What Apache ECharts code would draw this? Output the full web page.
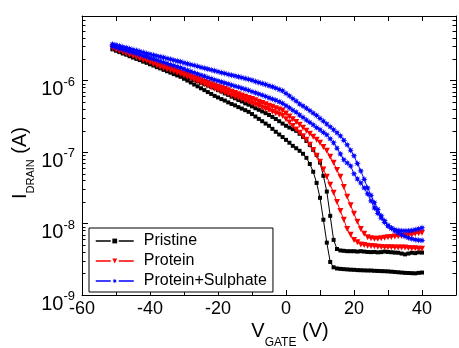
<!DOCTYPE html>
<html><head><meta charset="utf-8">
<script src="https://cdn.jsdelivr.net/npm/echarts@6/dist/echarts.min.js"></script>
<style>html,body{margin:0;padding:0;background:#fff}#c{width:459px;height:348px}</style>
</head><body><div id="c"></div>
<script>
// Gate voltage (V)
const vGate = [-51,-50,-49,-48,-47,-46,-45,-44,-43,-42,-41,-40,-39,-38,-37,-36,-35,-34,-33,-32,-31,-30,-29,-28,-27,-26,-25,-24,-23,-22,-21,-20,-19,-18,-17,-16,-15,-14,-13,-12,-11,-10,-9,-8,-7,-6,-5,-4,-3,-2,-1,0,1,2,3,4,5,6,7,8,9,10,11,12,13,14,15,16,17,18,19,20,21,22,23,24,25,26,27,28,29,30,31,32,33,34,35,36,37,38,39,40];

// Drain current (A), two sweeps per sample
const pristineA = [2.73e-6,2.61e-6,2.50e-6,2.39e-6,2.30e-6,2.19e-6,2.10e-6,2.01e-6,1.93e-6,1.84e-6,1.77e-6,1.69e-6,1.62e-6,1.54e-6,1.48e-6,1.41e-6,1.35e-6,1.29e-6,1.23e-6,1.18e-6,1.13e-6,1.06e-6,1.0e-6,9.4e-7,8.8e-7,8.3e-7,7.8e-7,7.35e-7,6.9e-7,6.5e-7,6.1e-7,5.8e-7,5.5e-7,5.25e-7,4.95e-7,4.7e-7,4.5e-7,4.25e-7,4.05e-7,3.85e-7,3.65e-7,3.4e-7,3.14e-7,2.91e-7,2.7e-7,2.5e-7,2.33e-7,2.11e-7,1.92e-7,1.76e-7,1.62e-7,1.48e-7,1.35e-7,1.22e-7,1.13e-7,1.04e-7,9.45e-8,8.3e-8,6.8e-8,5.3e-8,3.7e-8,2.29e-8,1.13e-8,5.4e-9,2.9e-9,2.44e-9,2.35e-9,2.32e-9,2.3e-9,2.28e-9,2.26e-9,2.25e-9,2.23e-9,2.22e-9,2.21e-9,2.2e-9,2.2e-9,2.18e-9,2.17e-9,2.16e-9,2.15e-9,2.14e-9,2.12e-9,2.1e-9,2.08e-9,2.06e-9,2.04e-9,2.03e-9,2.02e-9,2.01e-9,2.04e-9,2.06e-9];
const pristineB = [2.77e-6,2.67e-6,2.57e-6,2.47e-6,2.38e-6,2.29e-6,2.20e-6,2.12e-6,2.04e-6,1.96e-6,1.89e-6,1.80e-6,1.73e-6,1.65e-6,1.58e-6,1.51e-6,1.45e-6,1.39e-6,1.33e-6,1.27e-6,1.22e-6,1.17e-6,1.12e-6,1.07e-6,1.02e-6,9.75e-7,9.3e-7,8.9e-7,8.5e-7,8.15e-7,7.8e-7,7.35e-7,7.0e-7,6.6e-7,6.3e-7,5.95e-7,5.65e-7,5.35e-7,5.1e-7,4.8e-7,4.6e-7,4.35e-7,4.1e-7,3.9e-7,3.7e-7,3.5e-7,3.3e-7,3.1e-7,2.9e-7,2.7e-7,2.5e-7,2.33e-7,2.2e-7,2.09e-7,1.98e-7,1.8e-7,1.63e-7,1.43e-7,1.26e-7,1.07e-7,9.1e-8,7.1e-8,4.65e-8,2.8e-8,1.28e-8,5.9e-9,4.4e-9,4.2e-9,4.15e-9,4.1e-9,4.1e-9,4.1e-9,4.05e-9,4.1e-9,4.05e-9,4.0e-9,3.98e-9,4.0e-9,3.95e-9,3.98e-9,4.05e-9,4.0e-9,3.96e-9,3.92e-9,3.9e-9,3.8e-9,3.7e-9,3.8e-9,3.9e-9,3.85e-9,3.95e-9,3.92e-9];
const proteinA = [2.82e-6,2.70e-6,2.60e-6,2.50e-6,2.40e-6,2.30e-6,2.21e-6,2.12e-6,2.04e-6,1.96e-6,1.89e-6,1.80e-6,1.71e-6,1.63e-6,1.55e-6,1.50e-6,1.44e-6,1.39e-6,1.34e-6,1.29e-6,1.24e-6,1.18e-6,1.13e-6,1.07e-6,1.02e-6,9.75e-7,9.3e-7,8.85e-7,8.45e-7,8.0e-7,7.65e-7,7.35e-7,7.05e-7,6.75e-7,6.5e-7,6.2e-7,5.95e-7,5.7e-7,5.5e-7,5.25e-7,5.05e-7,4.8e-7,4.6e-7,4.4e-7,4.2e-7,4.0e-7,3.85e-7,3.65e-7,3.5e-7,3.35e-7,3.2e-7,2.88e-7,2.58e-7,2.31e-7,2.07e-7,1.86e-7,1.66e-7,1.48e-7,1.26e-7,1.07e-7,8.85e-8,7.3e-8,5.7e-8,4.5e-8,3.5e-8,2.7e-8,2.0e-8,1.5e-8,1.13e-8,8.4e-9,6.95e-9,5.9e-9,5.45e-9,5.1e-9,5.0e-9,4.9e-9,4.85e-9,4.8e-9,4.75e-9,4.7e-9,4.65e-9,4.65e-9,4.65e-9,4.6e-9,4.6e-9,4.6e-9,4.6e-9,4.55e-9,4.5e-9,4.5e-9,4.45e-9,4.45e-9];
const proteinB = [2.89e-6,2.79e-6,2.68e-6,2.58e-6,2.48e-6,2.39e-6,2.30e-6,2.21e-6,2.12e-6,2.04e-6,1.95e-6,1.86e-6,1.78e-6,1.71e-6,1.63e-6,1.57e-6,1.51e-6,1.46e-6,1.40e-6,1.35e-6,1.30e-6,1.25e-6,1.20e-6,1.15e-6,1.10e-6,1.06e-6,1.01e-6,9.7e-7,9.3e-7,8.9e-7,8.55e-7,8.2e-7,7.9e-7,7.6e-7,7.3e-7,7.0e-7,6.7e-7,6.45e-7,6.2e-7,5.95e-7,5.7e-7,5.5e-7,5.3e-7,5.05e-7,4.85e-7,4.65e-7,4.45e-7,4.3e-7,4.1e-7,3.95e-7,3.8e-7,3.45e-7,3.15e-7,2.88e-7,2.63e-7,2.4e-7,2.18e-7,1.98e-7,1.8e-7,1.63e-7,1.48e-7,1.35e-7,1.18e-7,1.04e-7,8.6e-8,7.1e-8,5.6e-8,4.5e-8,3.25e-8,2.36e-8,1.8e-8,1.37e-8,1.06e-8,8.4e-9,7.2e-9,6.4e-9,6.2e-9,6.1e-9,6.1e-9,6.2e-9,6.3e-9,6.4e-9,6.5e-9,6.6e-9,6.65e-9,6.7e-9,6.8e-9,6.9e-9,6.95e-9,7.2e-9,7.3e-9,7.4e-9];
const sulphateA = [3.0e-6,2.91e-6,2.81e-6,2.72e-6,2.64e-6,2.55e-6,2.46e-6,2.38e-6,2.30e-6,2.22e-6,2.15e-6,2.07e-6,2.0e-6,1.93e-6,1.86e-6,1.80e-6,1.73e-6,1.67e-6,1.62e-6,1.56e-6,1.51e-6,1.45e-6,1.39e-6,1.34e-6,1.29e-6,1.24e-6,1.19e-6,1.15e-6,1.10e-6,1.06e-6,1.02e-6,9.9e-7,9.55e-7,9.25e-7,8.95e-7,8.65e-7,8.35e-7,8.1e-7,7.8e-7,7.55e-7,7.3e-7,7.0e-7,6.75e-7,6.5e-7,6.25e-7,6.0e-7,5.75e-7,5.5e-7,5.3e-7,5.05e-7,4.8e-7,4.45e-7,4.15e-7,3.85e-7,3.6e-7,3.3e-7,3.05e-7,2.8e-7,2.6e-7,2.4e-7,2.2e-7,2.05e-7,1.88e-7,1.74e-7,1.53e-7,1.35e-7,1.13e-7,9.4e-8,7.8e-8,7.05e-8,6.4e-8,4.95e-8,4.2e-8,3.7e-8,3.15e-8,2.6e-8,2.07e-8,1.65e-8,1.39e-8,1.19e-8,1.04e-8,9.3e-9,8.6e-9,7.9e-9,7.4e-9,6.95e-9,6.6e-9,6.3e-9,6.1e-9,5.95e-9,5.85e-9,5.8e-9];
const sulphateB = [3.23e-6,3.14e-6,3.05e-6,2.96e-6,2.88e-6,2.79e-6,2.71e-6,2.64e-6,2.56e-6,2.48e-6,2.40e-6,2.34e-6,2.27e-6,2.21e-6,2.15e-6,2.10e-6,2.04e-6,1.99e-6,1.93e-6,1.88e-6,1.83e-6,1.77e-6,1.72e-6,1.67e-6,1.63e-6,1.58e-6,1.53e-6,1.49e-6,1.45e-6,1.41e-6,1.37e-6,1.33e-6,1.29e-6,1.26e-6,1.22e-6,1.19e-6,1.16e-6,1.13e-6,1.10e-6,1.07e-6,1.04e-6,1.01e-6,9.7e-7,9.4e-7,9.1e-7,8.8e-7,8.45e-7,8.2e-7,7.85e-7,7.5e-7,7.2e-7,6.6e-7,6.1e-7,5.6e-7,5.15e-7,4.7e-7,4.4e-7,4.1e-7,3.8e-7,3.5e-7,3.25e-7,2.95e-7,2.7e-7,2.47e-7,2.25e-7,2.05e-7,1.86e-7,1.68e-7,1.46e-7,1.26e-7,1.06e-7,8.85e-8,6.9e-8,5.45e-8,4.15e-8,3.15e-8,2.48e-8,1.95e-8,1.58e-8,1.28e-8,1.09e-8,9.3e-9,8.6e-9,8.2e-9,8.0e-9,7.9e-9,7.9e-9,7.9e-9,8.0e-9,8.2e-9,8.4e-9,8.7e-9];

const legendNames = ['Pristine', 'Protein', 'Protein+Sulphate'];
const xTickLabels = [-60, -40, -20, 0, 20, 40];
const yTickExponents = [-9, -8, -7, -6];

const pair = (ys) => vGate.map((v, i) => [v, ys[i]]);
const star = 'path://M0,-5L0.84,-2.03L3.54,-3.54L2.03,-0.84L5,0L2.03,0.84L3.54,3.54L0.84,2.03L0,5L-0.84,2.03L-3.54,3.54L-2.03,0.84L-5,0L-2.03,-0.84L-3.54,-3.54L-0.84,-2.03Z';

function mkSeries(name, ys, color, symbol, size, rot) {
  return {
    type: 'line', name: name, data: pair(ys), xAxisIndex: 0, yAxisIndex: 0,
    symbol: symbol, symbolSize: size, symbolRotate: rot || 0, showAllSymbol: true,
    itemStyle: { color: color }, lineStyle: { color: color, width: 1 },
    animation: false
  };
}

// minor log ticks (2..9 per decade)
const minorTicks = [];
for (let e = -9; e <= -6; e++) for (let m = 2; m <= 9; m++) {
  const v = m * Math.pow(10, e);
  if (v < 8e-6) minorTicks.push([-60, v]);
}

const FONT = 'Liberation Sans';
const isPow = v => { const l = Math.log10(v); return Math.abs(l - Math.round(l)) < 1e-6; };
const axisLineStyle = { onZero: false, lineStyle: { color: '#000', width: 1 } };

const chart = echarts.init(document.getElementById('c'), null, { renderer: 'canvas' });
chart.setOption({
  animation: false,
  backgroundColor: '#fff',
  grid: { left: 82, right: 1, top: 16, bottom: 53 },
  xAxis: [{
    type: 'value', min: -60, max: 50, interval: 10, position: 'bottom',
    axisLine: axisLineStyle,
    axisTick: { inside: true, length: 5, lineStyle: { color: '#000' } },
    splitLine: { show: false },
    axisLabel: { margin: 5, color: '#000', fontFamily: FONT, fontSize: 18,
      formatter: v => xTickLabels.indexOf(v) >= 0 ? String(v) : '' }
  }, {
    type: 'value', min: -60, max: 50, interval: 10, position: 'top',
    axisLine: axisLineStyle,
    axisTick: { inside: true, length: 5, lineStyle: { color: '#000' } },
    splitLine: { show: false }, axisLabel: { show: false }
  }],
  yAxis: [{
    type: 'log', logBase: 10, min: 1e-9, max: 8e-6, position: 'left',
    axisLine: axisLineStyle,
    axisTick: { inside: true, length: 6, lineStyle: { color: '#000' } },
    splitLine: { show: false },
    axisLabel: {
      margin: 7, color: '#000', fontFamily: FONT, padding: [12, 0, 0, 0],
      formatter: v => {
        if (!isPow(v)) return '';
        const e = Math.round(Math.log10(v));
        if (yTickExponents.indexOf(e) < 0) return '';
        return '{b|10}{s|' + e + '}';
      },
      rich: {
        b: { fontFamily: FONT, fontSize: 20, lineHeight: 22, padding: [4, 0, 0, 0], verticalAlign: 'top', color: '#000' },
        s: { fontFamily: FONT, fontSize: 13, lineHeight: 13, verticalAlign: 'top', color: '#000' }
      }
    }
  }, {
    type: 'log', logBase: 10, min: 1e-9, max: 8e-6, position: 'right',
    axisLine: axisLineStyle,
    axisTick: { inside: true, length: 6, lineStyle: { color: '#000' } },
    splitLine: { show: false }, axisLabel: { show: false }
  }],
  legend: {
    data: legendNames, orient: 'vertical', left: 89, top: 228,
    padding: [5, 6, 3, 6], itemGap: 4, itemWidth: 38, itemHeight: 6,
    borderColor: '#000', borderWidth: 1, backgroundColor: '#fff',
    lineStyle: { width: 1.5, type: [15, 8, 15] },
    textStyle: { fontFamily: FONT, fontSize: 16, lineHeight: 16, color: '#000', padding: [0, 0, 0, 5] },
    selectedMode: false
  },
  graphic: [{
    type: 'text', x: 290, y: 321,
    style: {
      text: '{m|V}{s|GATE}{m| (V)}', align: 'center', verticalAlign: 'top',
      rich: {
        m: { fontFamily: FONT, fontSize: 20, lineHeight: 22, verticalAlign: 'top', fill: '#000' },
        s: { fontFamily: FONT, fontSize: 12, lineHeight: 12, padding: [16, 0, 0, 0], verticalAlign: 'top', fill: '#000' }
      }
    }
  }, {
    type: 'text', x: 10, y: 163, rotation: Math.PI / 2,
    style: {
      text: '{m|I}{s|DRAIN}{m| (A)}', align: 'center', verticalAlign: 'top',
      rich: {
        m: { fontFamily: FONT, fontSize: 20, lineHeight: 22, verticalAlign: 'top', fill: '#000' },
        s: { fontFamily: FONT, fontSize: 11, lineHeight: 11, padding: [15, 0, 0, 0], verticalAlign: 'top', fill: '#000' }
      }
    }
  }],
  series: [
    mkSeries('Pristine', pristineA, '#000000', 'rect', 4),
    mkSeries('Pristine', pristineB, '#000000', 'rect', 4),
    mkSeries('Protein', proteinA, '#ff0000', 'triangle', 6, 180),
    mkSeries('Protein', proteinB, '#ff0000', 'triangle', 6, 180),
    mkSeries('Protein+Sulphate', sulphateA, '#0000ff', star, 7),
    mkSeries('Protein+Sulphate', sulphateB, '#0000ff', star, 7),
    {
      type: 'custom', name: 'minorTicks', data: minorTicks, silent: true, animation: false,
      xAxisIndex: 0, yAxisIndex: 0,
      renderItem: (params, api) => {
        const p = api.coord([api.value(0), api.value(1)]);
        const cs = params.coordSys;
        const y = Math.round(p[1]) + 0.5;
        return { type: 'group', children: [
          { type: 'line', shape: { x1: cs.x, y1: y, x2: cs.x + 3.5, y2: y }, style: { stroke: '#000', lineWidth: 1 } },
          { type: 'line', shape: { x1: cs.x + cs.width, y1: y, x2: cs.x + cs.width - 3.5, y2: y }, style: { stroke: '#000', lineWidth: 1 } }
        ] };
      }
    }
  ]
});
</script></body></html>
